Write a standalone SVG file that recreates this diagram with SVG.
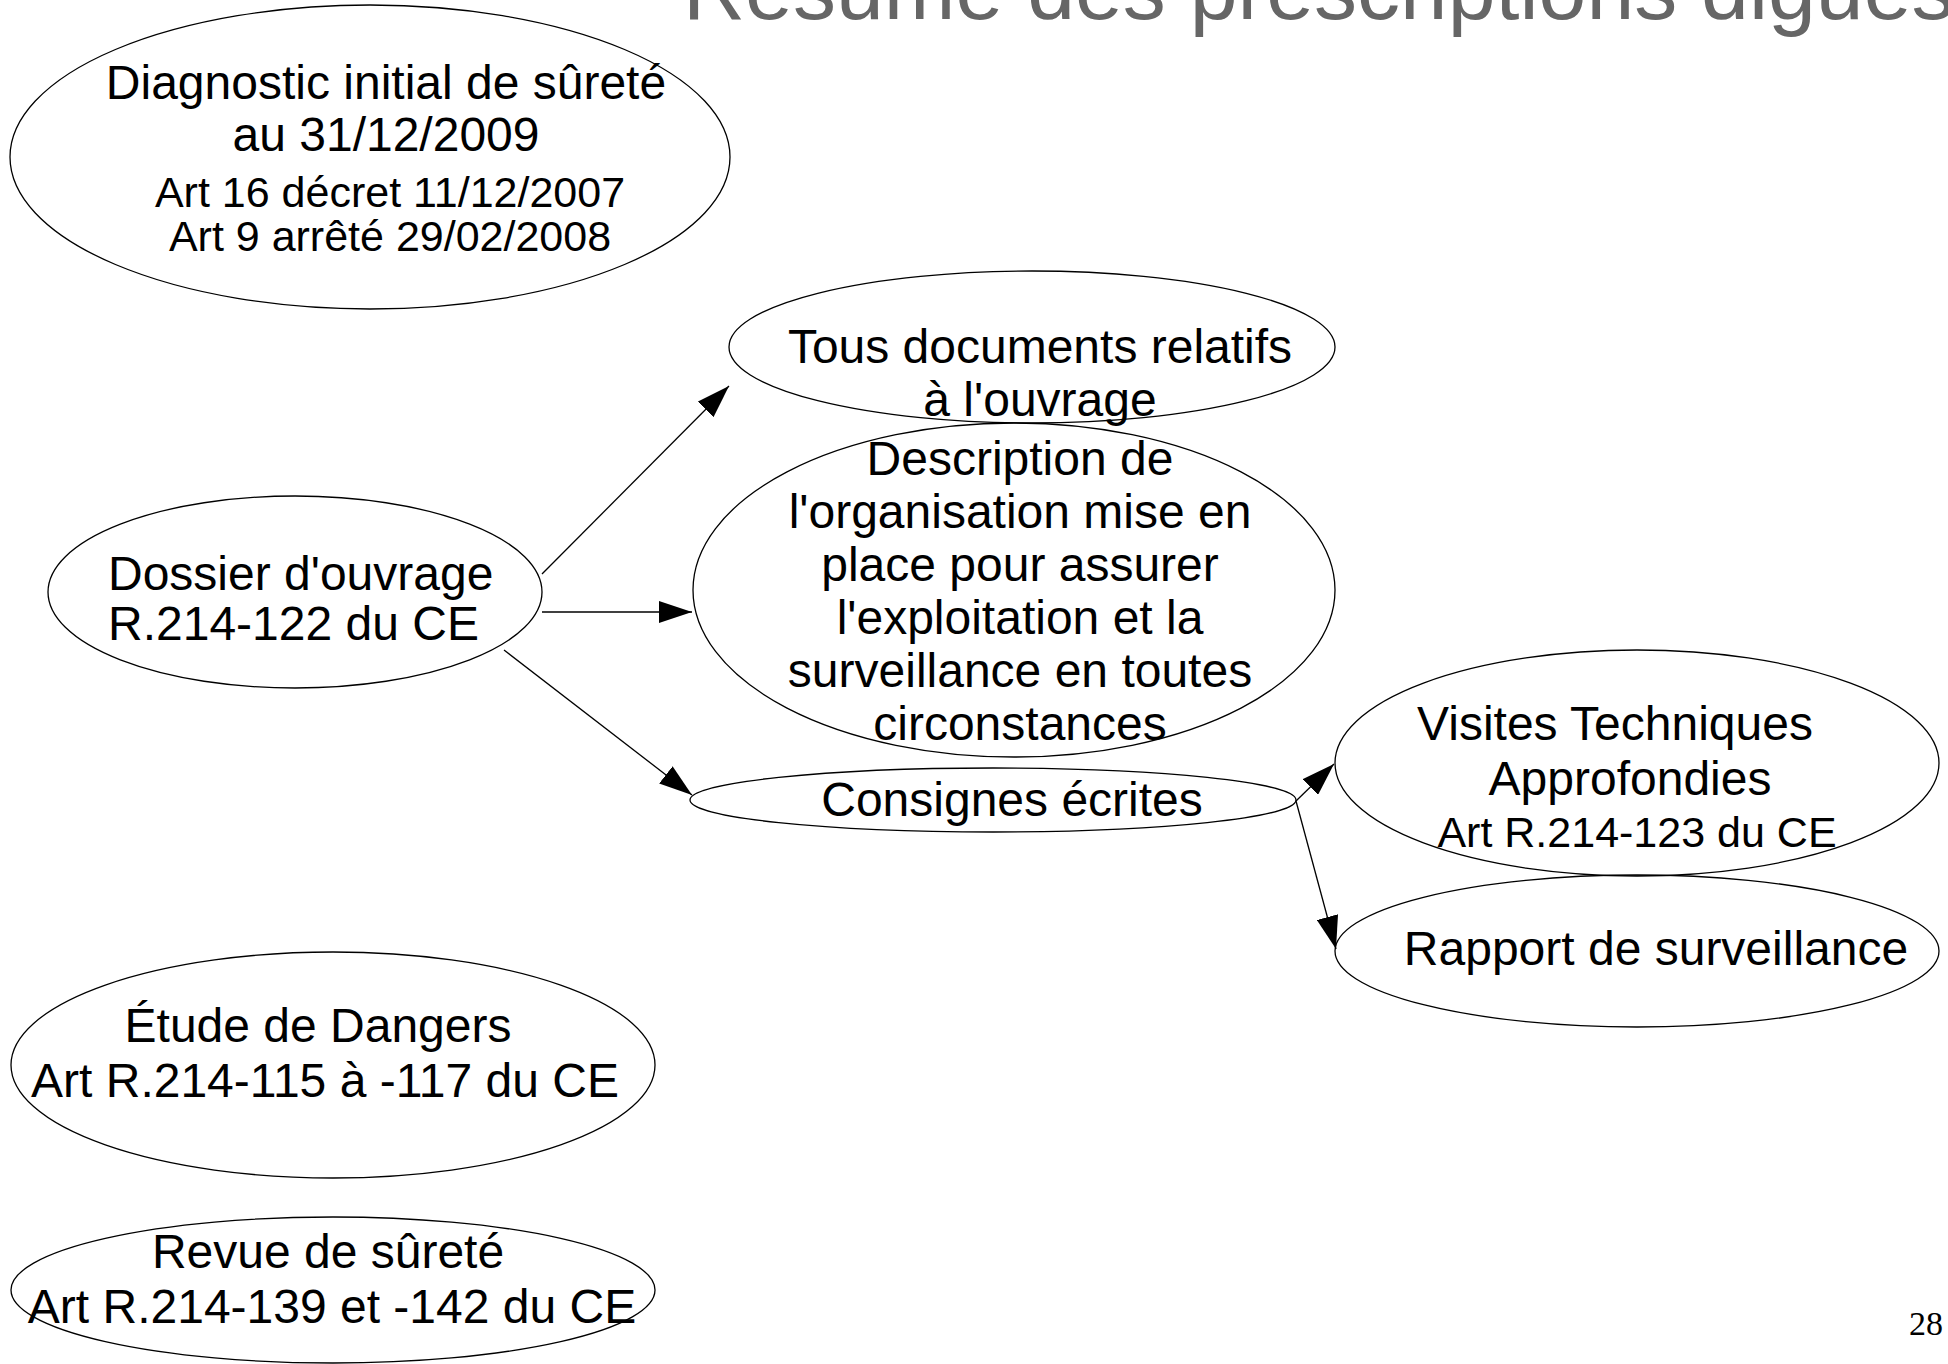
<svg xmlns="http://www.w3.org/2000/svg" width="1948" height="1364" viewBox="0 0 1948 1364">
<style>
.shape{fill:none;stroke:#000;stroke-width:1.3}
.t{font-family:"Liberation Sans",Arial,sans-serif;fill:#000;font-size:48px}
.s{font-size:43px}
.c{text-anchor:middle}
.edge{stroke:#000;stroke-width:1.3;fill:none;marker-end:url(#arr)}
.title{font-family:"Liberation Sans",Arial,sans-serif;fill:#666666;font-size:86px}
.pg{font-family:"Liberation Serif","Times New Roman",serif;font-size:34px;fill:#000}
</style>
<defs>
<marker id="arr" markerUnits="userSpaceOnUse" markerWidth="34" markerHeight="22" refX="33" refY="11" orient="auto">
<path d="M0,0 L33,11 L0,22 z" fill="#000"/>
</marker>
</defs>
<rect width="1948" height="1364" fill="#fff"/>
<text class="title" x="683" y="19">Résumé des prescriptions digues</text>
<g id="connectors">
<line class="edge" x1="542" y1="574" x2="729" y2="386"/>
<line class="edge" x1="542" y1="612" x2="692" y2="612"/>
<line class="edge" x1="504" y1="650" x2="692" y2="795"/>
<line class="edge" x1="1296" y1="801" x2="1334" y2="764"/>
<line class="edge" x1="1296" y1="801" x2="1336" y2="949"/>
</g>
<g id="diagnostic">
<ellipse class="shape" cx="370" cy="157" rx="360" ry="152"/>
<text class="t c" x="386" y="99">Diagnostic initial de sûreté</text>
<text class="t c" x="386" y="151">au 31/12/2009</text>
<text class="t c s" x="390" y="207">Art 16 décret 11/12/2007</text>
<text class="t c s" x="390" y="251">Art 9 arrêté 29/02/2008</text>
</g>
<g id="tous">
<ellipse class="shape" cx="1032" cy="347" rx="303" ry="76"/>
<text class="t c" x="1040" y="363">Tous documents relatifs</text>
<text class="t c" x="1040" y="416">à l'ouvrage</text>
</g>
<g id="description">
<ellipse class="shape" cx="1014" cy="590" rx="321" ry="167"/>
<text class="t c" x="1020" y="475">Description de</text>
<text class="t c" x="1020" y="528">l'organisation mise en</text>
<text class="t c" x="1020" y="581">place pour assurer</text>
<text class="t c" x="1020" y="634">l'exploitation et la</text>
<text class="t c" x="1020" y="687">surveillance en toutes</text>
<text class="t c" x="1020" y="740">circonstances</text>
</g>
<g id="dossier">
<ellipse class="shape" cx="295" cy="592" rx="247" ry="96"/>
<text class="t" x="108" y="590">Dossier d'ouvrage</text>
<text class="t" x="108" y="640">R.214-122 du CE</text>
</g>
<g id="consignes">
<ellipse class="shape" cx="993" cy="800" rx="303" ry="32"/>
<text class="t c" x="1012" y="816">Consignes écrites</text>
</g>
<g id="vta">
<ellipse class="shape" cx="1637" cy="763" rx="302" ry="113"/>
<text class="t c" x="1615" y="740">Visites Techniques</text>
<text class="t c" x="1630" y="795">Approfondies</text>
<text class="t c s" x="1637" y="847">Art R.214-123 du CE</text>
</g>
<g id="rapport">
<ellipse class="shape" cx="1637" cy="951" rx="302" ry="76"/>
<text class="t c" x="1656" y="965">Rapport de surveillance</text>
</g>
<g id="etude">
<ellipse class="shape" cx="333" cy="1065" rx="322" ry="113"/>
<text class="t c" x="318" y="1042">Étude de Dangers</text>
<text class="t c" x="325" y="1097">Art R.214-115 à -117 du CE</text>
</g>
<g id="revue">
<ellipse class="shape" cx="333" cy="1290" rx="322" ry="73"/>
<text class="t c" x="328" y="1268">Revue de sûreté</text>
<text class="t c" x="332" y="1323">Art R.214-139 et -142 du CE</text>
</g>
<text class="pg" x="1909" y="1335">28</text>
</svg>
